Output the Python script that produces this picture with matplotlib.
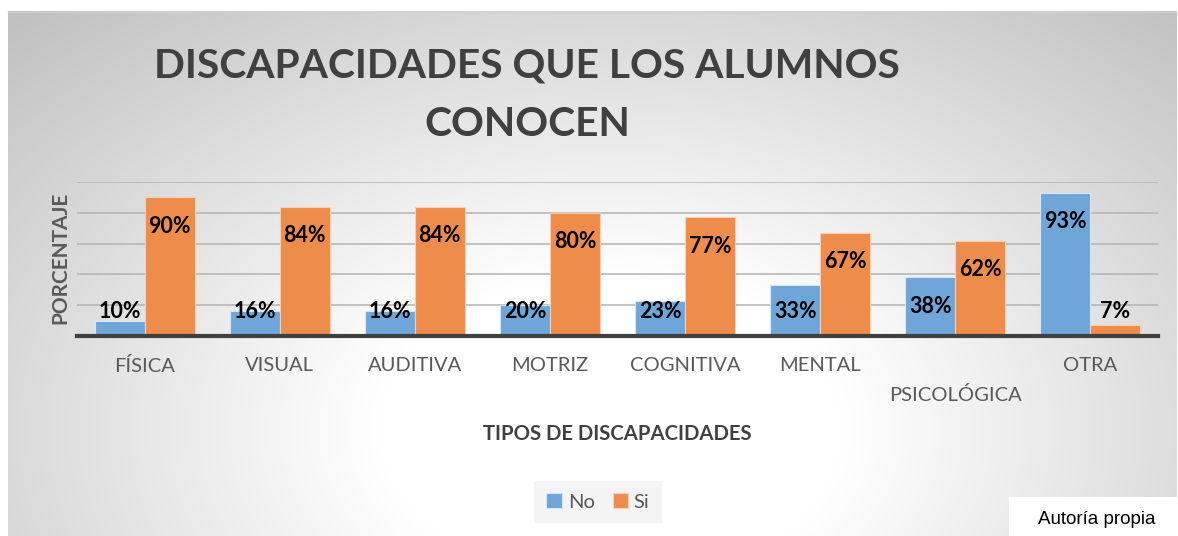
import numpy as np
import matplotlib
matplotlib.use("Agg")
import matplotlib.pyplot as plt
from matplotlib.transforms import ScaledTranslation
from matplotlib.patches import Rectangle

# ---- data ----
categories = ["FÍSICA", "VISUAL", "AUDITIVA", "MOTRIZ", "COGNITIVA", "MENTAL", "PSICOLÓGICA", "OTRA"]
no_values = [10, 16, 16, 20, 23, 33, 38, 93]
si_values = [90, 84, 84, 80, 77, 67, 62, 7]
series_names = ["No", "Si"]
title_text = "DISCAPACIDADES QUE LOS ALUMNOS\nCONOCEN"
xlabel_text = "TIPOS DE DISCAPACIDADES"
ylabel_text = "PORCENTAJE"
source_text = "Autoría propia"

W, H = 1178, 536
DPI = 100
fig = plt.figure(figsize=(W / DPI, H / DPI), dpi=DPI)
fig.patch.set_facecolor("white")

# ---- background radial gradient ----
bg = fig.add_axes([0, 0, 1, 1], zorder=-10)
yy, xx = np.mgrid[0:H, 0:W]
cx, cy = 610, 430
d = np.sqrt(((xx - cx) / 700.0) ** 2 + ((yy - cy) / 470.0) ** 2)
t = np.clip((d - 0.33) / 0.9, 0, 1)
g = 1.0 - t * (63 / 255.0)
g[(xx < 8) | (yy < 11) | (xx > 1176)] = 1.0
img = np.dstack([g, g, g])
bg.imshow(img, extent=(0, W, H, 0), aspect="auto", interpolation="bilinear")
bg.plot([8, 1176], [11.5, 11.5], color="#cfcfcf", lw=1)
bg.set_xlim(0, W)
bg.set_ylim(H, 0)
bg.axis("off")

# ---- main axes ----
ax = fig.add_axes([77 / W, (H - 336) / H, (1158 - 77) / W, 154 / H])
ax.patch.set_alpha(0)
x = np.arange(len(categories))
bw = 0.37
c_no = "#6fa6d9"
c_si = "#ee8c4c"
b1 = ax.bar(x - bw / 2, no_values, bw, color=c_no, edgecolor="#d6e6f5", linewidth=0.8, label=series_names[0], zorder=3)
b2 = ax.bar(x + bw / 2, si_values, bw, color=c_si, edgecolor="#f7cfb3", linewidth=0.8, label=series_names[1], zorder=3)

ax.set_xlim(-0.5, len(categories) - 0.5)
ax.set_ylim(0, 100)
ax.set_yticks(np.arange(0, 101, 20))
ax.yaxis.grid(True, color="#b3b3b3", linewidth=1.1, zorder=0)
ax.set_axisbelow(True)
ax.tick_params(axis="y", length=0, labelleft=False)
for s in ["top", "right", "left"]:
    ax.spines[s].set_visible(False)
ax.spines["bottom"].set_color("#404040")
ax.spines["bottom"].set_linewidth(3)
ax.spines["bottom"].set_zorder(5)

ax.set_xticks(x)
ax.set_xticklabels(categories, fontfamily="Lato", fontsize=14.5, color="#595959")
ax.tick_params(axis="x", length=0, pad=15)
for lab in ax.get_xticklabels():
    if lab.get_text() == "PSICOLÓGICA":
        lab.set_transform(lab.get_transform() + ScaledTranslation(0, -0.29, fig.dpi_scale_trans))

# data labels
for vals, off in ((no_values, -bw / 2), (si_values, bw / 2)):
    for xi, v in zip(x, vals):
        ly = max(v - 18.8, 16)
        ax.text(xi + off, ly, f"{v}%", ha="center", va="center", fontfamily="Lato",
                fontweight="bold", fontsize=15.5, color="black", zorder=6)

# titles
fig.text(527 / W, 1 - 95 / H, title_text, ha="center", va="center", fontfamily="Lato",
         fontweight="bold", fontsize=29.3, color="#404040", linespacing=1.7)
fig.text(617.5 / W, 1 - 434 / H, xlabel_text, ha="center", va="center", fontfamily="Lato",
         fontweight="bold", fontsize=14.6, color="#404040")
fig.text(60 / W, 1 - 258 / H, ylabel_text, ha="center", va="center", rotation=90,
         fontfamily="Lato", fontweight="bold", fontsize=15, color="#595959")

# legend
leg = fig.legend(handles=[b1, b2], labels=series_names, loc="center", bbox_to_anchor=(598 / W, 1 - 502 / H),
                 ncol=2, frameon=True, facecolor="#f4f4f4", edgecolor="none", framealpha=1,
                 prop={"family": "Lato", "size": 14.5}, handlelength=0.75, handleheight=0.75,
                 handletextpad=0.3, columnspacing=0.9, borderpad=0.6, fancybox=False)
for txt in leg.get_texts():
    txt.set_color("#595959")

# source box
bg.add_patch(Rectangle((1009, 497), W - 1009, H - 497, facecolor="white", edgecolor="none", zorder=5))
bg.text(1097, 520, source_text, ha="center", va="center", fontfamily="Liberation Sans",
        fontsize=13.5, color="black", zorder=6)

fig.savefig("out.png", dpi=DPI)
